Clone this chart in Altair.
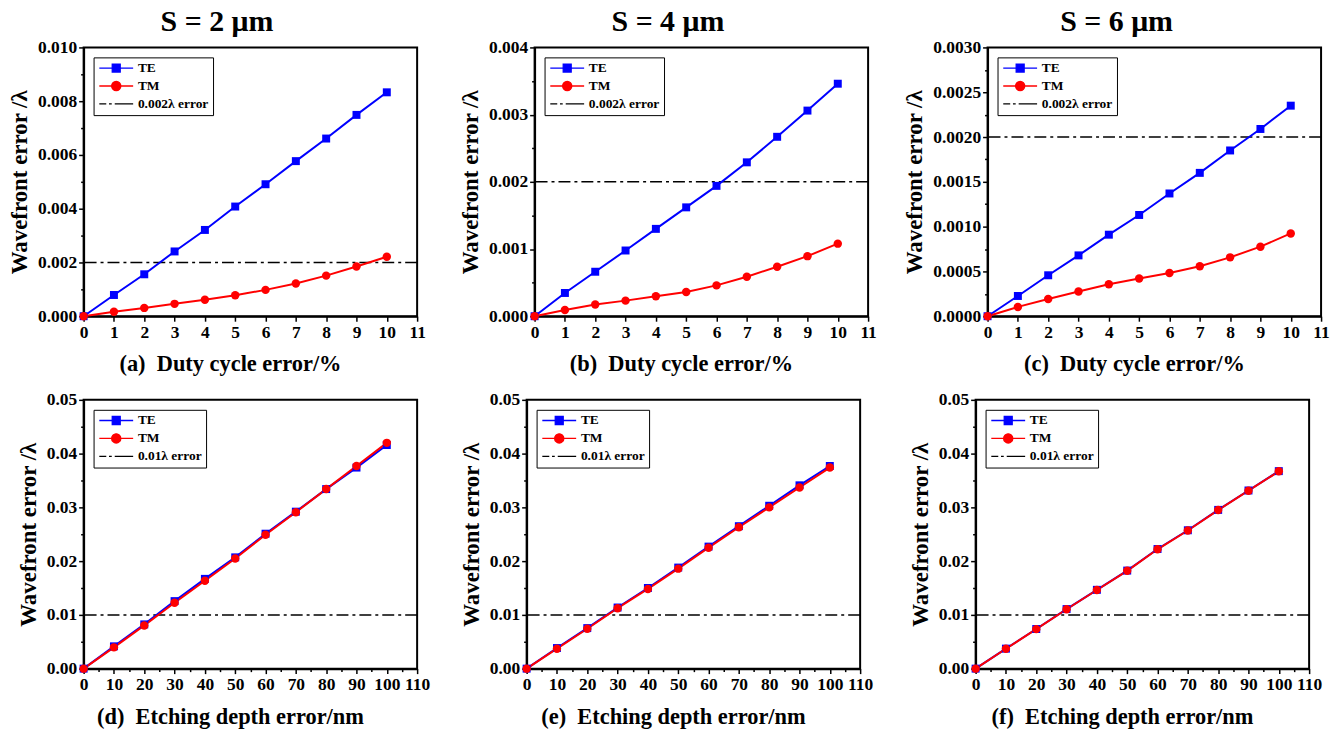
import altair as alt
import pandas as pd

FONT = "Liberation Serif"

# ---------------- data ----------------
duty_x = [0, 1, 2, 3, 4, 5, 6, 7, 8, 9, 10]
depth_x = [0, 10, 20, 30, 40, 50, 60, 70, 80, 90, 100]

te_a = [0, 0.00079, 0.00156, 0.00241, 0.00321, 0.00408, 0.00491, 0.00577, 0.00661, 0.00749, 0.00833]
tm_a = [0, 0.00017, 0.00031, 0.00046, 0.00061, 0.00078, 0.00098, 0.00122, 0.00151, 0.00185, 0.00221]
te_b = [0, 0.000346, 0.000662, 0.000978, 0.00130, 0.00162, 0.00194, 0.00229, 0.00267, 0.00306, 0.00346]
tm_b = [0, 0.000094, 0.000173, 0.000232, 0.000296, 0.00036, 0.000459, 0.000588, 0.000736, 0.000894, 0.00108]
te_c = [0, 0.000226, 0.000457, 0.000679, 0.00091, 0.00113, 0.00137, 0.0016, 0.00185, 0.00209, 0.00235]
tm_c = [0, 0.000104, 0.000193, 0.000275, 0.000356, 0.00042, 0.000483, 0.000557, 0.000657, 0.000776, 0.000924]
te_d = [0, 0.00415, 0.00823, 0.01256, 0.0167, 0.0207, 0.0251, 0.0292, 0.0334, 0.0374, 0.0416]
tm_d = [0, 0.00396, 0.00804, 0.01225, 0.01634, 0.0205, 0.0249, 0.0291, 0.0334, 0.0377, 0.0420]
te_e = [0, 0.00383, 0.00754, 0.01137, 0.0150, 0.0188, 0.0227, 0.0265, 0.0303, 0.0341, 0.0377]
tm_e = [0, 0.00371, 0.00742, 0.01125, 0.01483, 0.0186, 0.0225, 0.0263, 0.0300, 0.0337, 0.0374]
te_f = [0, 0.00372, 0.00737, 0.01108, 0.01466, 0.01824, 0.02225, 0.02574, 0.02953, 0.03314, 0.03674]
tm_f = [0, 0.0037, 0.00735, 0.01105, 0.01463, 0.0182, 0.0222, 0.0257, 0.0295, 0.0331, 0.0367]

thr_duty = 0.002
thr_depth = 0.01
thr_duty_label = "0.002λ error"
thr_depth_label = "0.01λ error"

col_titles = ["S = 2 μm", "S = 4 μm", "S = 6 μm"]
NB = "\u00a0\u00a0"
x_titles_top = [f"(a){NB}Duty cycle error/%", f"(b){NB}Duty cycle error/%", f"(c){NB}Duty cycle error/%"]
x_titles_bot = [f"(d){NB}Etching depth error/nm", f"(e){NB}Etching depth error/nm", f"(f){NB}Etching depth error/nm"]

# tick values (major + minor)
duty_ticks = [0, 1, 2, 3, 4, 5, 6, 7, 8, 9, 10, 11]
depth_ticks = [i * 5 for i in range(23)]           # 0 .. 110 (minor every 5)
y_ticks_a = [round(i * 0.001, 6) for i in range(11)]     # 0 .. 0.010
y_ticks_b = [round(i * 0.0005, 6) for i in range(9)]     # 0 .. 0.004
y_ticks_c = [round(i * 0.00025, 6) for i in range(13)]   # 0 .. 0.0030
y_ticks_bot = [round(i * 0.005, 6) for i in range(11)]   # 0 .. 0.05

BLUE = "#0000ff"
RED = "#ff0000"

# legend symbols: line + marker (custom SVG paths; symbolSize 100 -> 5 px per unit)
SYM_TE = "M-3.4,0H3.4M-0.8,-0.8H0.8V0.8H-0.8Z"
SYM_TM = "M-3.4,0H3.4M0.92,0A0.92,0.92,0,1,1,-0.92,0A0.92,0.92,0,1,1,0.92,0Z"
SYM_THR = "M-3.4,0H-2.0M-1.45,0H-0.9M-0.3,0H3.4"


def is_minor(step):
    return f"abs(datum.value/{step} - round(datum.value/{step})) > 0.01"


def make_axis(vals, step, title, fmt, is_x, title_pad=None):
    common = dict(
        values=vals,
        format=fmt,
        labelExpr=f"{is_minor(step)} ? '' : datum.label",
        tickSize={"condition": {"test": is_minor(step), "value": 3}, "value": 5},
        tickColor="black",
        tickWidth=1.5,
        domainColor="black",
        domainWidth=2,
        labelFont=FONT,
        labelFontSize=17.5,
        labelFontWeight="bold",
        labelColor="black",
        labelPadding=2,
        labelFlush=False,
        labelOverlap=False,
        labelBound=False,
        grid=False,
        title=title,
        titleFont=FONT,
        titleFontWeight="bold",
        titleColor="black",
    )
    if is_x:
        common.update(titleFontSize=22.5, titlePadding=title_pad, titleX=147)
    else:
        common.update(titleFontSize=23, titlePadding=6)
    return alt.Axis(**common)


def panel(xs, te, tm, thr, thr_label, xticks, xmajor, xmax, yticks, ymajor, ymax, yfmt, xtitle,
          title=None, xtitle_pad=12):
    n = len(xs)
    df = pd.DataFrame({"x": xs + xs, "y": te + tm, "series": ["TE"] * n + ["TM"] * n})
    thr_df = pd.DataFrame({"y": [thr]})
    dom = ["TE", "TM", thr_label]
    xscale = alt.Scale(domain=[0, xmax], nice=False, zero=False)
    yscale = alt.Scale(domain=[0, ymax], nice=False, zero=False)
    xaxis = make_axis(xticks, xmajor, xtitle, ".0f", True, xtitle_pad)
    yaxis = make_axis(yticks, ymajor, "Wavefront error /λ", yfmt, False)

    legend = alt.Legend(
        title=None,
        orient="top-left",
        offset=10,
        symbolSize=100,
        symbolOffset=12,
        symbolStrokeWidth=1.3,
        symbolOpacity=1,
        labelFont=FONT,
        labelFontSize=13.5,
        labelFontWeight="bold",
        labelColor="black",
        labelOffset=15,
        strokeColor="black",
        padding=4,
        rowPadding=3,
    )

    base = alt.Chart(df)
    X = alt.X("x:Q", scale=xscale, axis=xaxis)
    Y = alt.Y("y:Q", scale=yscale, axis=yaxis)

    rule = alt.Chart(thr_df).mark_rule(color="black", strokeWidth=1.5, strokeDash=[12, 4, 3, 4]).encode(y=Y)
    line_te = base.transform_filter(alt.datum.series == "TE").mark_line(color=BLUE, strokeWidth=2).encode(x=X, y=Y)
    line_tm = base.transform_filter(alt.datum.series == "TM").mark_line(color=RED, strokeWidth=2).encode(x=X, y=Y)
    pts_te = base.transform_filter(alt.datum.series == "TE").mark_point(
        shape="square", filled=True, size=64, color=BLUE, opacity=1).encode(x=X, y=Y)
    pts_tm = base.transform_filter(alt.datum.series == "TM").mark_point(
        shape="circle", filled=True, size=72, color=RED, opacity=1).encode(x=X, y=Y)
    leg = base.transform_filter("false").mark_point(opacity=1).encode(
        x=X,
        y=Y,
        color=alt.Color("series:N", scale=alt.Scale(domain=dom, range=[BLUE, RED, "#000000"]), legend=legend),
        fill=alt.Fill("series:N", scale=alt.Scale(domain=dom, range=[BLUE, RED, "#000000"]), legend=legend),
        shape=alt.Shape("series:N", scale=alt.Scale(domain=dom, range=[SYM_TE, SYM_TM, SYM_THR]), legend=legend),
    )
    props = dict(width=335, height=270)
    if title is not None:
        props["title"] = alt.TitleParams(
            text=title, font=FONT, fontSize=30, fontWeight="bold", color="black",
            anchor="middle", frame="bounds", offset=2
        )
    return alt.layer(rule, line_te, line_tm, pts_te, pts_tm, leg).properties(**props)


pa = panel(duty_x, te_a, tm_a, thr_duty, thr_duty_label, duty_ticks, 1, 11, y_ticks_a, 0.002, 0.010, ".3f", x_titles_top[0], col_titles[0])
pb = panel(duty_x, te_b, tm_b, thr_duty, thr_duty_label, duty_ticks, 1, 11, y_ticks_b, 0.001, 0.004, ".3f", x_titles_top[1], col_titles[1])
pc = panel(duty_x, te_c, tm_c, thr_duty, thr_duty_label, duty_ticks, 1, 11, y_ticks_c, 0.0005, 0.003, ".4f", x_titles_top[2], col_titles[2])
pd_ = panel(depth_x, te_d, tm_d, thr_depth, thr_depth_label, depth_ticks, 10, 110, y_ticks_bot, 0.01, 0.05, ".2f", x_titles_bot[0], xtitle_pad=13)
pe = panel(depth_x, te_e, tm_e, thr_depth, thr_depth_label, depth_ticks, 10, 110, y_ticks_bot, 0.01, 0.05, ".2f", x_titles_bot[1], xtitle_pad=13)
pf = panel(depth_x, te_f, tm_f, thr_depth, thr_depth_label, depth_ticks, 10, 110, y_ticks_bot, 0.01, 0.05, ".2f", x_titles_bot[2], xtitle_pad=13)

indep = dict(color="independent", fill="independent", shape="independent")
top = alt.hconcat(
    alt.hconcat(pa, pb, spacing=31).resolve_scale(**indep), pc, spacing=24
).resolve_scale(**indep)
bottom = alt.hconcat(
    alt.hconcat(pd_, pe, spacing=28).resolve_scale(**indep), pf, spacing=34
).resolve_scale(**indep)

chart = (
    alt.vconcat(top, bottom, spacing=14)
    .resolve_scale(**indep)
    .properties(padding={"left": 7, "top": 4, "right": 5, "bottom": 0}, background="white")
    .configure_view(stroke="black", strokeWidth=2)
    .configure_axis(labelOverlap=False)
)

chart.save("out.html", embed_options={"renderer": "svg", "actions": False})
